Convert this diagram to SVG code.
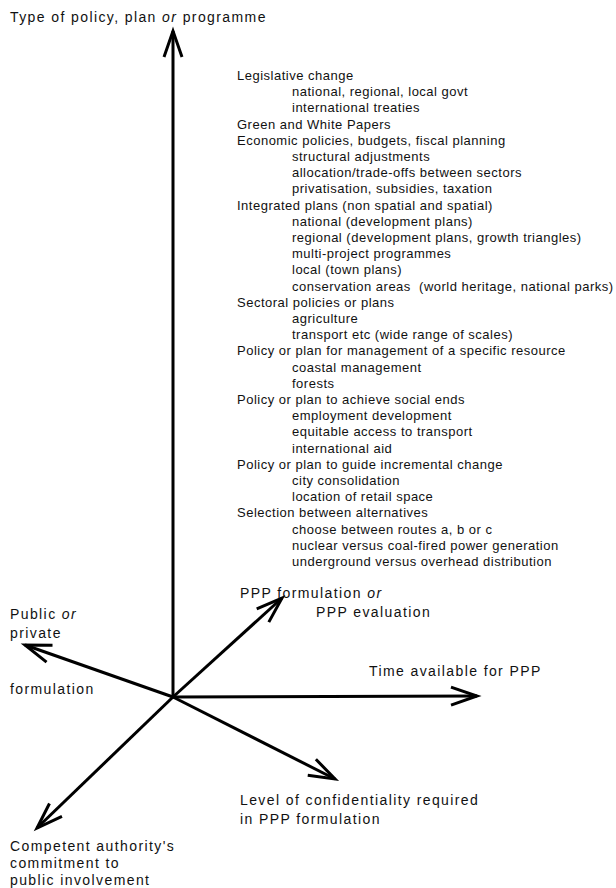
<svg xmlns="http://www.w3.org/2000/svg" width="616" height="888" viewBox="0 0 616 888">
<style>
text{font-family:"Liberation Sans",Arial,sans-serif;fill:#111}
.lab{font-size:14px;letter-spacing:1.4px}
.lst{font-size:13px;letter-spacing:0.5px;white-space:pre}
.ax{stroke:#000;stroke-width:3;fill:none;marker-end:url(#arr)}
</style>
<defs>
<marker id="arr" markerUnits="userSpaceOnUse" markerWidth="40" markerHeight="30" refX="0" refY="0" viewBox="-30 -15 40 30" orient="auto" overflow="visible">
<path d="M-26,-9 L0,0 L-26,9" fill="none" stroke="#000" stroke-width="3" stroke-linejoin="miter"/>
</marker>
</defs>
<rect width="616" height="888" fill="#fff"/>
<g id="connectors">
<line class="ax" x1="173" y1="697" x2="173" y2="31"/>
<line class="ax" x1="173" y1="697" x2="477" y2="696"/>
<line class="ax" x1="173" y1="697" x2="25" y2="645"/>
<line class="ax" x1="173" y1="697" x2="282" y2="598"/>
<line class="ax" x1="173" y1="697" x2="335" y2="779"/>
<line class="ax" x1="173" y1="697" x2="37" y2="828"/>
</g>
<g id="type-axis"><text class="lab" x="10" y="22">Type of policy, plan <tspan font-style="italic">or</tspan> programme</text></g>
<g id="public-private"><text class="lab" x="10" y="619">Public <tspan font-style="italic">or</tspan></text><text class="lab" x="10" y="638">private</text></g>
<g id="formulation"><text class="lab" x="10" y="694">formulation</text></g>
<g id="ppp-stage"><text class="lab" x="240" y="598">PPP formulation <tspan font-style="italic">or</tspan></text><text class="lab" x="316" y="617">PPP evaluation</text></g>
<g id="time"><text class="lab" x="369" y="676">Time available for PPP</text></g>
<g id="confidentiality"><text class="lab" x="240" y="805">Level of confidentiality required</text><text class="lab" x="240" y="824">in PPP formulation</text></g>
<g id="commitment"><text class="lab" x="10" y="851">Competent authority's</text><text class="lab" x="10" y="868">commitment to</text><text class="lab" x="10" y="885">public involvement</text></g>
<g id="policy-list" class="lst">
<text class="lst" x="237" y="80">Legislative change</text>
<text class="lst" x="292" y="96.2">national, regional, local govt</text>
<text class="lst" x="292" y="112.4">international treaties</text>
<text class="lst" x="237" y="128.6">Green and White Papers</text>
<text class="lst" x="237" y="144.8">Economic policies, budgets, fiscal planning</text>
<text class="lst" x="292" y="161">structural adjustments</text>
<text class="lst" x="292" y="177.2">allocation/trade-offs between sectors</text>
<text class="lst" x="292" y="193.4">privatisation, subsidies, taxation</text>
<text class="lst" x="237" y="209.6">Integrated plans (non spatial and spatial)</text>
<text class="lst" x="292" y="225.8">national (development plans)</text>
<text class="lst" x="292" y="242">regional (development plans, growth triangles)</text>
<text class="lst" x="292" y="258.2">multi-project programmes</text>
<text class="lst" x="292" y="274.4">local (town plans)</text>
<text class="lst" x="292" y="290.6">conservation areas  (world heritage, national parks)</text>
<text class="lst" x="237" y="306.8">Sectoral policies or plans</text>
<text class="lst" x="292" y="323">agriculture</text>
<text class="lst" x="292" y="339.2">transport etc (wide range of scales)</text>
<text class="lst" x="237" y="355.4">Policy or plan for management of a specific resource</text>
<text class="lst" x="292" y="371.6">coastal management</text>
<text class="lst" x="292" y="387.8">forests</text>
<text class="lst" x="237" y="404">Policy or plan to achieve social ends</text>
<text class="lst" x="292" y="420.2">employment development</text>
<text class="lst" x="292" y="436.4">equitable access to transport</text>
<text class="lst" x="292" y="452.6">international aid</text>
<text class="lst" x="237" y="468.8">Policy or plan to guide incremental change</text>
<text class="lst" x="292" y="485">city consolidation</text>
<text class="lst" x="292" y="501.2">location of retail space</text>
<text class="lst" x="237" y="517.4">Selection between alternatives</text>
<text class="lst" x="292" y="533.6">choose between routes a, b or c</text>
<text class="lst" x="292" y="549.8">nuclear versus coal-fired power generation</text>
<text class="lst" x="292" y="566">underground versus overhead distribution</text>
</g>
</svg>
